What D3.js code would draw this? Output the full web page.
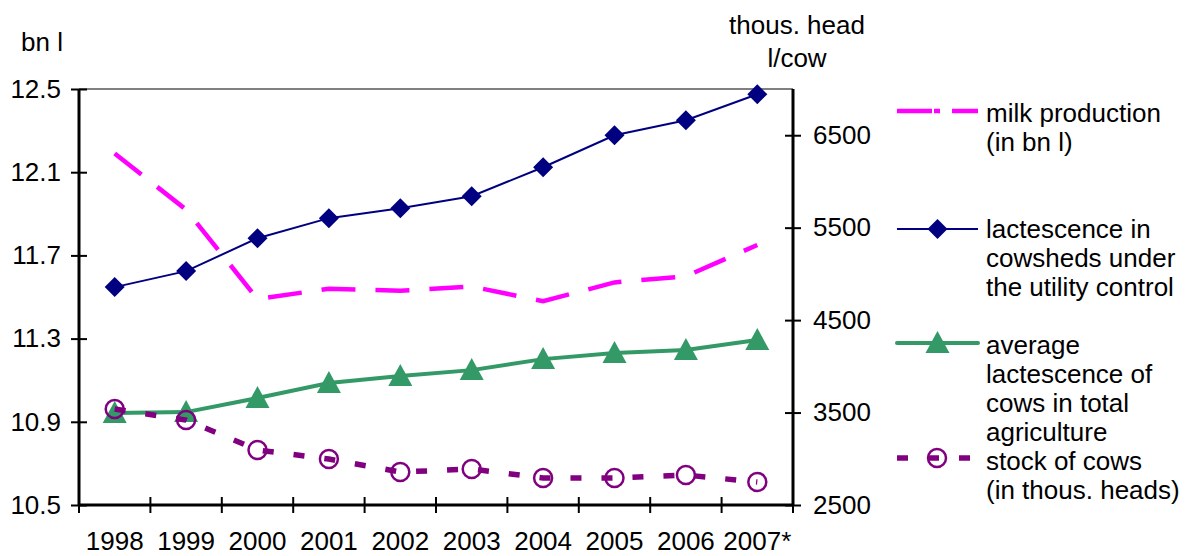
<!DOCTYPE html>
<html><head><meta charset="utf-8">
<script src="https://cdn.jsdelivr.net/npm/d3@7"></script>
<style>body{margin:0;background:#fff}svg{display:block;font-family:"Liberation Sans",Arial,sans-serif}</style>
</head><body><svg id="c" width="1190" height="556"></svg>
<script>
const categories = ["1998","1999","2000","2001","2002","2003","2004","2005","2006","2007*"];
const milkProduction = [12.19,11.92,11.49,11.54,11.53,11.55,11.48,11.57,11.60,11.75];
const lactescenceCowsheds = [4857,5030,5386,5603,5711,5840,6154,6500,6662,6943];
const avgLactescence = [3495,3505,3657,3819,3895,3959,4078,4143,4176,4284];
const cowStock = [3538,3419,3095,2997,2857,2889,2792,2792,2824,2749];
const leftTicks = [10.5,10.9,11.3,11.7,12.1,12.5];
const rightTicks = [2500,3500,4500,5500,6500];
const legendLabels = [
  ["milk production","(in bn l)"],
  ["lactescence in","cowsheds under","the utility control"],
  ["average","lactescence of","cows in total","agriculture"],
  ["stock of cows","(in thous. heads)"]
];

const svg = d3.select("#c");
const L = 79, R = 793, T = 89, B = 505;
const FS = 26;
const FF = "Liberation Sans, Arial, sans-serif";
const x = d3.scaleBand().domain(categories).range([L, R]);
const yL = d3.scaleLinear().domain([10.5, 12.5]).range([B, T]);
const yR = d3.scaleLinear().domain([2500, 7000]).range([B, T]);
const cx = c => x(c) + x.bandwidth() / 2;

// top border
svg.append("line").attr("x1", L).attr("x2", R).attr("y1", T).attr("y2", T)
  .attr("stroke", "#808080").attr("stroke-width", 2);

// left axis
const gl = svg.append("g").attr("transform", `translate(${L},0)`)
  .call(d3.axisLeft(yL).tickValues(leftTicks).tickFormat(d3.format(".1f")).tickSize(8).tickPadding(10));
gl.selectAll(".tick line").attr("x1", 8).attr("stroke", "#000").attr("stroke-width", 2);
gl.select(".domain").attr("d", `M0,${T}V${B}`).attr("stroke", "#000").attr("stroke-width", 3);
gl.selectAll("text").attr("font-size", FS).attr("fill", "#000").attr("font-family", FF);

// right axis
const gr = svg.append("g").attr("transform", `translate(${R},0)`)
  .call(d3.axisRight(yR).tickValues(rightTicks).tickFormat(d3.format("d")).tickSize(8).tickPadding(12));
gr.selectAll(".tick line").attr("x1", -8).attr("stroke", "#000").attr("stroke-width", 2);
gr.select(".domain").attr("d", `M0,${T}V${B}`).attr("stroke", "#000").attr("stroke-width", 3);
gr.selectAll("text").attr("font-size", FS).attr("fill", "#000").attr("font-family", FF);

// bottom axis
const gb = svg.append("g").attr("transform", `translate(0,${B})`)
  .call(d3.axisBottom(x).tickSize(0).tickPadding(27));
gb.select(".domain").attr("d", `M${L},0H${R}`).attr("stroke", "#000").attr("stroke-width", 3);
gb.selectAll("text").attr("font-size", FS).attr("fill", "#000").attr("font-family", FF);
const edges = categories.map(c => x(c)).concat([x.range()[1]]);
svg.append("g").selectAll("line").data(edges).join("line")
  .attr("x1", d => d).attr("x2", d => d).attr("y1", B - 8).attr("y2", B + 8)
  .attr("stroke", "#000").attr("stroke-width", 2);

// axis titles
svg.append("text").attr("x", 21).attr("y", 51).attr("font-size", FS).text("bn l");
svg.append("text").attr("x", 797).attr("y", 34).attr("font-size", FS).attr("text-anchor", "middle").text("thous. head");
svg.append("text").attr("x", 797).attr("y", 67).attr("font-size", FS).attr("text-anchor", "middle").text("l/cow");

const lineL = d3.line().x((d, i) => cx(categories[i])).y(d => yL(d));
const lineR = d3.line().x((d, i) => cx(categories[i])).y(d => yR(d));

const PINK = "#FF00FF", NAVY = "#000080", GREEN = "#339966", PURPLE = "#800080";

// milk production
svg.append("path").datum(milkProduction).attr("d", lineL).attr("fill", "none")
  .attr("stroke", PINK).attr("stroke-width", 4.5).attr("stroke-dasharray", "34,20");

// lactescence cowsheds
svg.append("path").datum(lactescenceCowsheds).attr("d", lineR).attr("fill", "none")
  .attr("stroke", NAVY).attr("stroke-width", 2);
const diamondPath = "M0,-10L10,0L0,10L-10,0Z";
svg.append("g").selectAll("path").data(lactescenceCowsheds).join("path")
  .attr("d", diamondPath).attr("transform", (d, i) => `translate(${cx(categories[i])},${yR(d)})`)
  .attr("fill", NAVY);

// average lactescence
svg.append("path").datum(avgLactescence).attr("d", lineR).attr("fill", "none")
  .attr("stroke", GREEN).attr("stroke-width", 4);
const triPath = "M0,-12L12,10L-12,10Z";
svg.append("g").selectAll("path").data(avgLactescence).join("path")
  .attr("d", triPath).attr("transform", (d, i) => `translate(${cx(categories[i])},${yR(d)})`)
  .attr("fill", GREEN);

// stock of cows
svg.append("path").datum(cowStock).attr("d", lineR).attr("fill", "none")
  .attr("stroke", PURPLE).attr("stroke-width", 5.5).attr("stroke-dasharray", "11,20");
svg.append("g").selectAll("circle").data(cowStock).join("circle")
  .attr("cx", (d, i) => cx(categories[i])).attr("cy", d => yR(d)).attr("r", 9)
  .attr("fill", "none").attr("stroke", PURPLE).attr("stroke-width", 2.5);

// legend
const lx1 = 897, lx2 = 978, tx = 986;
const legendY = [111, 229, 343, 458];
const lineTops = [113, 229, 345, 461];
const lg = svg.append("g");
lg.append("line").attr("x1", lx1).attr("x2", lx2).attr("y1", legendY[0]).attr("y2", legendY[0])
  .attr("stroke", PINK).attr("stroke-width", 4.5).attr("stroke-dasharray", "35,2,6,12");
lg.append("line").attr("x1", lx1).attr("x2", lx2).attr("y1", legendY[1]).attr("y2", legendY[1])
  .attr("stroke", NAVY).attr("stroke-width", 2);
lg.append("path").attr("d", diamondPath).attr("transform", `translate(${(lx1 + lx2) / 2},${legendY[1]})`).attr("fill", NAVY);
lg.append("line").attr("x1", lx1).attr("x2", lx2).attr("y1", legendY[2]).attr("y2", legendY[2])
  .attr("stroke", GREEN).attr("stroke-width", 4).attr("stroke-linecap", "round");
lg.append("path").attr("d", triPath).attr("transform", `translate(${(lx1 + lx2) / 2},${legendY[2]})`).attr("fill", GREEN);
lg.append("line").attr("x1", lx1).attr("x2", 970).attr("y1", legendY[3]).attr("y2", legendY[3])
  .attr("stroke", PURPLE).attr("stroke-width", 5.5).attr("stroke-dasharray", "11,20");
lg.append("circle").attr("cx", 937).attr("cy", legendY[3]).attr("r", 9)
  .attr("fill", "none").attr("stroke", PURPLE).attr("stroke-width", 2.5);

legendLabels.forEach((lines, k) => {
  lines.forEach((s, j) => {
    lg.append("text").attr("x", tx).attr("y", lineTops[k] + j * 29).attr("dy", "0.35em")
      .attr("font-size", FS).attr("fill", "#000").text(s);
  });
});
</script></body></html>
